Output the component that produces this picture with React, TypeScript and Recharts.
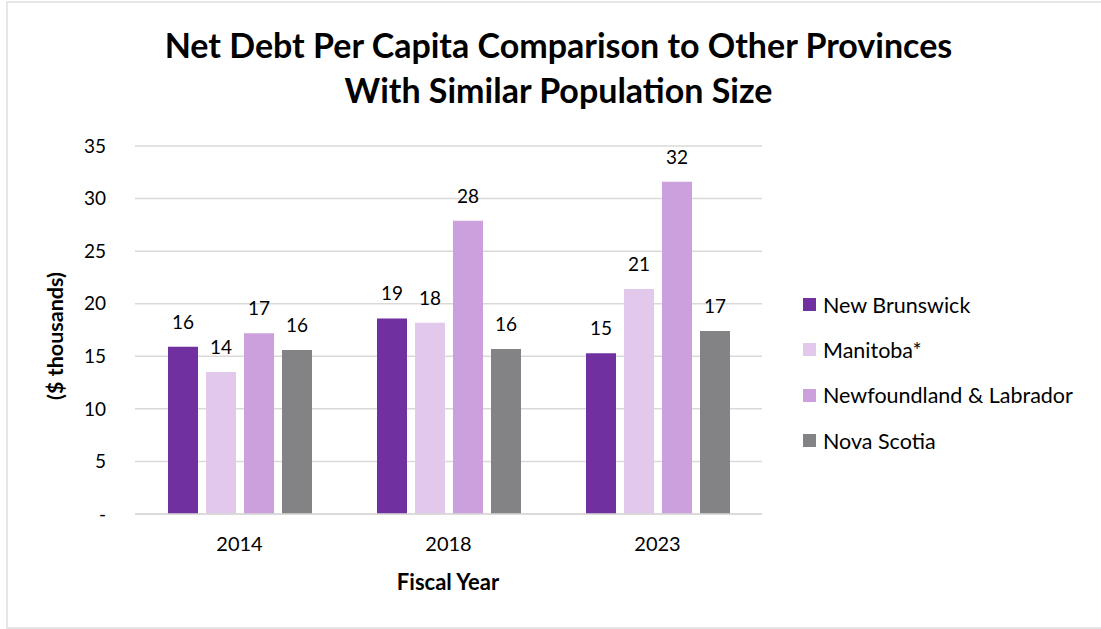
import { BarChart, Bar, XAxis, YAxis, CartesianGrid, Legend, LabelList } from "recharts";

const years = ["2014", "2018", "2023"];
const newBrunswick = [15.9, 18.6, 15.3];
const manitoba = [13.5, 18.2, 21.4];
const newfoundland = [17.2, 27.9, 31.6];
const novaScotia = [15.6, 15.7, 17.4];
const yTicks = [0, 5, 10, 15, 20, 25, 30, 35];

const SERIES = [
  { key: "nb", name: "New Brunswick", color: "#7030a0" },
  { key: "mb", name: "Manitoba*", color: "#e2c8eb" },
  { key: "nl", name: "Newfoundland & Labrador", color: "#cca0dc" },
  { key: "ns", name: "Nova Scotia", color: "#838385" },
];

const data = years.map((year, i) => ({
  year,
  nb: newBrunswick[i],
  mb: manitoba[i],
  nl: newfoundland[i],
  ns: novaScotia[i],
}));

const FONT = "Lato, 'Open Sans', sans-serif";

function LegendList() {
  return (
    <div>
      {SERIES.map((s) => (
        <div key={s.key} style={{ display: "flex", alignItems: "center", height: 45.3 }}>
          <span style={{ width: 13, height: 13, background: s.color, marginRight: 7 }} />
          <span style={{ fontSize: 21.5, color: "#000", whiteSpace: "nowrap" }}>{s.name}</span>
        </div>
      ))}
    </div>
  );
}

export default function App() {
  return (
    <div
      style={{
        position: "absolute",
        left: 0,
        top: 0,
        width: 1101,
        height: 629,
        background: "#fff",
        fontFamily: FONT,
        overflow: "hidden",
      }}
    >
      {/* chart frame */}
      <div
        style={{
          position: "absolute",
          left: 6,
          top: 1,
          width: 1120,
          height: 628,
          border: "2px solid #e6e6e6",
          boxSizing: "border-box",
        }}
      />
      <div
        style={{
          position: "absolute",
          left: 0,
          width: 1117,
          top: 22,
          textAlign: "center",
          fontWeight: 700,
          fontSize: 34,
          lineHeight: "45px",
          color: "#000",
        }}
      >
        Net Debt Per Capita Comparison to Other Provinces
        <br />
        With Similar Population Size
      </div>
      <div
        style={{
          position: "absolute",
          left: 55,
          top: 336,
          transform: "translate(-50%, -50%) rotate(-90deg)",
          whiteSpace: "nowrap",
          fontWeight: 700,
          fontSize: 21.5,
          color: "#000",
        }}
      >
        ($ thousands)
      </div>
      <div
        style={{
          position: "absolute",
          left: 448,
          top: 581,
          transform: "translate(-50%, -50%)",
          whiteSpace: "nowrap",
          fontWeight: 700,
          fontSize: 22,
          color: "#000",
        }}
      >
        Fiscal Year
      </div>
      <div style={{ position: "absolute", left: 0, top: 0 }}>
        <BarChart
          width={1101}
          height={629}
          data={data}
          margin={{ top: 146, right: 339, bottom: 85, left: 75 }}
          barSize={30}
          barGap={8}
        >
          <CartesianGrid vertical={false} stroke="#d9d9d9" strokeWidth={1.5} />
          <XAxis
            dataKey="year"
            axisLine={{ stroke: "#d9d9d9", strokeWidth: 1.5 }}
            tickLine={false}
            tickSize={6}
            tickMargin={17}
            height={30}
            tick={{ fill: "#000", fontSize: 20, fontFamily: FONT }}
          />
          <YAxis
            domain={[0, 35]}
            ticks={yTicks}
            width={60}
            axisLine={false}
            tickLine={false}
            tickSize={6}
            tickMargin={23}
            tickFormatter={(v) => (v === 0 ? "-" : String(v))}
            tick={{ fill: "#000", fontSize: 19, fontFamily: FONT }}
          />
          <Legend
            layout="horizontal"
            verticalAlign="middle"
            align="center"
            wrapperStyle={{ left: 803, top: 282, width: 298 }}
            content={() => <LegendList />}
          />
          {SERIES.map((s) => (
            <Bar key={s.key} dataKey={s.key} name={s.name} fill={s.color} isAnimationActive={false}>
              <LabelList
                dataKey={s.key}
                position="top"
                offset={18}
                formatter={(v: number) => Math.round(v)}
                style={{ fill: "#000", fontSize: 19, fontFamily: FONT }}
              />
            </Bar>
          ))}
        </BarChart>
      </div>
    </div>
  );
}
